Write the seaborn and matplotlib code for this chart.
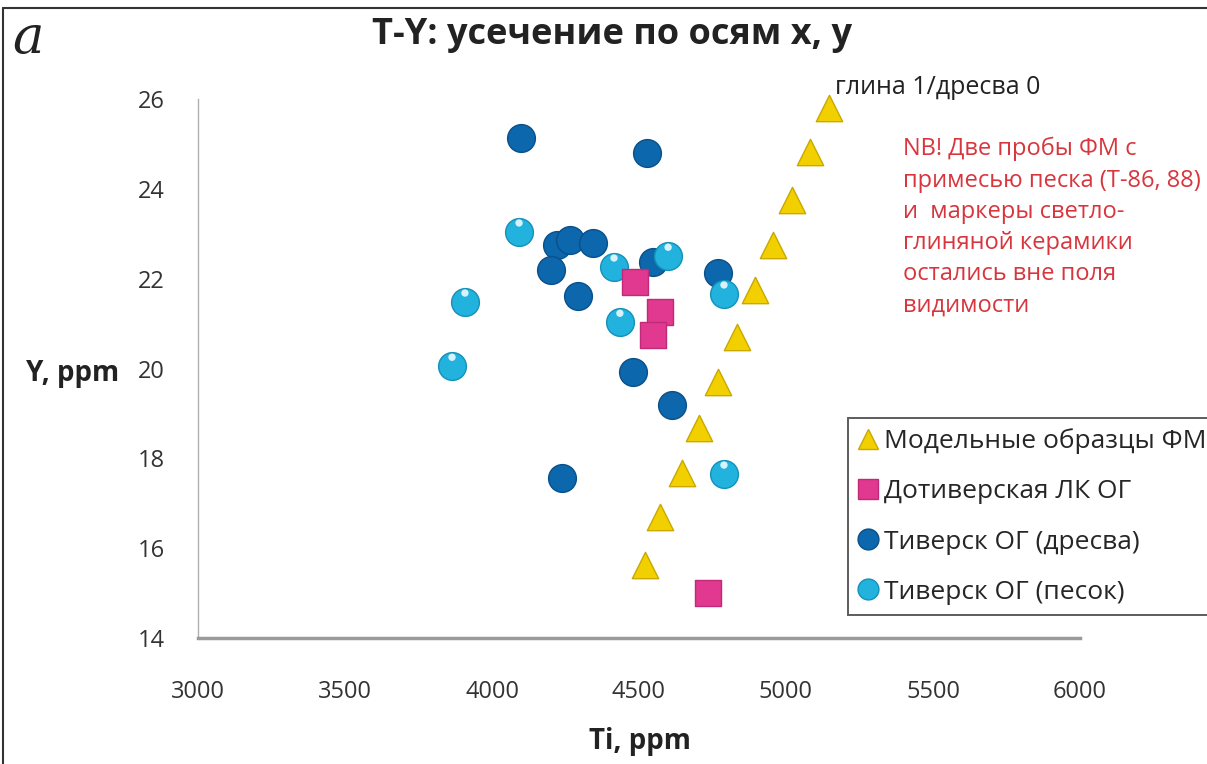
import matplotlib
matplotlib.use("Agg")
import matplotlib.pyplot as plt
import seaborn as sns
import pandas as pd
from matplotlib.lines import Line2D

# ---- data ----
fm_ti = [5146, 5082, 5020, 4956, 4895, 4833, 4769, 4704, 4646, 4571, 4520]
fm_y = [25.8, 24.82, 23.75, 22.75, 21.75, 20.7, 19.7, 18.67, 17.67, 16.7, 15.63]

dot_ti = [4486, 4571, 4548, 4735]
dot_y = [21.93, 21.26, 20.75, 15.0]

dres_ti = [4099, 4527, 4221, 4265, 4344, 4201, 4293, 4548, 4769, 4480, 4612, 4238]
dres_y = [25.13, 24.8, 22.75, 22.86, 22.79, 22.19, 21.61, 22.37, 22.13, 19.92, 19.19, 17.56]

pes_ti = [4092, 4415, 4599, 4789, 3908, 4435, 3864, 4789]
pes_y = [23.04, 22.26, 22.5, 21.66, 21.48, 21.03, 20.05, 17.65]

series_names = ["Модельные образцы ФМ", "Дотиверская ЛК ОГ",
                "Тиверск ОГ (дресва)", "Тиверск ОГ (песок)"]
x_ticks = [3000, 3500, 4000, 4500, 5000, 5500, 6000]
y_ticks = [14, 16, 18, 20, 22, 24, 26]

title = "Т-Y: усечение по осям x, y"
x_label = "Ti, ppm"
y_label = "Y, ppm"
panel_letter = "a"
top_note = "глина 1/дресва 0"
nb_note = ("NB! Две пробы ФМ с\nпримесью песка (Т-86, 88)\nи  маркеры светло-\n"
           "глиняной керамики\nостались вне поля\nвидимости")

# ---- style ----
sns.set_style("white")
FONT = ["Open Sans", "DejaVu Sans"]
plt.rcParams["font.family"] = FONT

colors = {"fm": "#f2d000", "dot": "#e0398f", "dres": "#0c67ad", "pes": "#22b2de"}
edges = {"fm": "#c9a800", "dot": "#c02a78", "dres": "#0a4f88", "pes": "#1690b8"}

frames = []
for key, xs, ys, name in [("fm", fm_ti, fm_y, series_names[0]),
                          ("dot", dot_ti, dot_y, series_names[1]),
                          ("dres", dres_ti, dres_y, series_names[2]),
                          ("pes", pes_ti, pes_y, series_names[3])]:
    frames.append(pd.DataFrame({"Ti": xs, "Y": ys, "group": name, "key": key}))
df = pd.concat(frames, ignore_index=True)

W, H = 1207, 764
fig = plt.figure(figsize=(W / 100, H / 100), dpi=100)
ax = fig.add_axes([198 / W, 1 - 638 / H, (1080 - 198) / W, (638 - 99) / H])

marker_map = {"fm": "^", "dot": "s", "dres": "o", "pes": "o"}
size_map = {"fm": 360, "dot": 340, "dres": 400, "pes": 400}
zorders = {"fm": 3, "dres": 4, "pes": 5, "dot": 6}
for key in ["fm", "dres", "pes", "dot"]:
    sub = df[df["key"] == key]
    sns.scatterplot(data=sub, x="Ti", y="Y", ax=ax, marker=marker_map[key],
                    s=size_map[key], color=colors[key], edgecolor=edges[key],
                    linewidth=1.0, zorder=zorders[key], legend=False, clip_on=False)

# highlights on sand circles
sns.scatterplot(x=[v for v in pes_ti], y=[v + 0.2 for v in pes_y], ax=ax,
                marker="o", s=28, color="#d8f2fb", edgecolor="none",
                zorder=5.5, legend=False)

ax.set_xlim(3000, 6000)
ax.set_ylim(14, 26)
ax.set_xticks(x_ticks)
ax.set_yticks(y_ticks)
ax.set_xticklabels([str(t) for t in x_ticks], fontsize=17, color="#333333")
ax.set_yticklabels([str(t) for t in y_ticks], fontsize=17, color="#333333")
ax.tick_params(axis="x", direction="out", length=10, width=1, color="#a8a8a8", pad=20)
ax.tick_params(axis="y", direction="out", length=8, width=1, color="#a8a8a8", pad=16)

for s in ["top", "right"]:
    ax.spines[s].set_visible(False)
ax.spines["left"].set_color("#b0b0b0")
ax.spines["left"].set_linewidth(1.0)
ax.spines["bottom"].set_color("#9a9a9a")
ax.spines["bottom"].set_linewidth(2.5)

ax.set_xlabel(x_label, fontsize=20, fontweight="bold", color="#222222")
ax.xaxis.set_label_coords((640 - 198) / (1080 - 198), -(742 - 638) / (638 - 99))
ax.xaxis.label.set_va("center")
ax.set_ylabel(y_label, fontsize=20, fontweight="bold", color="#222222",
              rotation=0, va="center", ha="center")
ax.yaxis.set_label_coords((73 - 198) / (1080 - 198), (638 - 373) / (638 - 99))

fig.text(612 / W, 1 - 35 / H, title, ha="center", va="center",
         fontsize=26, fontweight="bold", color="#222222")
fig.text(12 / W, 1 - 38 / H, panel_letter, ha="left", va="center",
         fontsize=38, style="italic", family=["DejaVu Serif"], color="#222222")

fig.text(835 / W, 1 - 88 / H, top_note, ha="left", va="center",
         fontsize=18, color="#222222")
fig.text(903 / W, 1 - 137 / H, nb_note, ha="left", va="top",
         fontsize=17, color="#d8353d", linespacing=1.40)

# legend
handles = [
    Line2D([], [], marker="^", ls="none", ms=15, mfc=colors["fm"], mec=edges["fm"]),
    Line2D([], [], marker="s", ls="none", ms=15, mfc=colors["dot"], mec=edges["dot"]),
    Line2D([], [], marker="o", ls="none", ms=15, mfc=colors["dres"], mec=edges["dres"]),
    Line2D([], [], marker="o", ls="none", ms=15, mfc=colors["pes"], mec=edges["pes"]),
]
leg = fig.legend(handles, series_names, loc="upper left",
                 bbox_to_anchor=(848 / W, 1 - 418 / H), fontsize=19,
                 frameon=True, fancybox=False, edgecolor="#333333",
                 handlelength=0.7, handletextpad=0.25, labelspacing=0.95,
                 borderpad=0.4, borderaxespad=0)
leg.get_frame().set_linewidth(1.4)

# figure frame (top and left edges)
fig.add_artist(Line2D([3 / W, 1], [1 - 8 / H, 1 - 8 / H], color="#333333", lw=1.5))
fig.add_artist(Line2D([3 / W, 3 / W], [0, 1 - 8 / H], color="#333333", lw=1.5))

fig.savefig("out.png", dpi=100)
